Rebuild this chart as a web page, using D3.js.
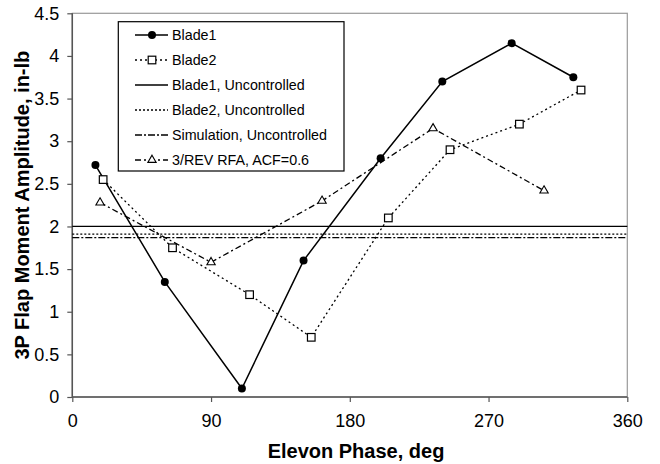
<!DOCTYPE html>
<html><head><meta charset="utf-8">
<script src="https://cdn.jsdelivr.net/npm/d3@7"></script>
<style>body{margin:0;background:#fff}svg{display:block}text{font-family:"Liberation Sans",Arial,sans-serif}</style>
</head><body><svg id="c" width="660" height="464"></svg>
<script>
const blade1X = [15, 60, 110, 150, 200, 240, 285, 325];
const blade1Y = [2.72, 1.35, 0.1, 1.6, 2.8, 3.7, 4.15, 3.75];
const blade2X = [20, 65, 115, 155, 205, 245, 290, 330];
const blade2Y = [2.55, 1.75, 1.2, 0.7, 2.1, 2.9, 3.2, 3.6];
const rfaX = [18, 90, 162, 234, 306];
const rfaY = [2.28, 1.58, 2.3, 3.15, 2.42];
const blade1Unc = 2.0;
const blade2Unc = 1.91;
const simUnc = 1.87;
const xTicks = [0, 90, 180, 270, 360];
const yTicks = [0, 0.5, 1, 1.5, 2, 2.5, 3, 3.5, 4, 4.5];
const legendLabels = ["Blade1", "Blade2", "Blade1, Uncontrolled", "Blade2, Uncontrolled", "Simulation, Uncontrolled", "3/REV RFA, ACF=0.6"];

const svg = d3.select("#c");
const L = 72.3, R = 627.3, T = 13.3, B = 397;
const x = d3.scaleLinear().domain([0, 360]).range([L, R]);
const y = d3.scaleLinear().domain([0, 4.5]).range([B, T]);

svg.append("rect").attr("x", L).attr("y", T).attr("width", R - L).attr("height", B - T)
  .attr("fill", "none").attr("stroke", "#999").attr("stroke-width", 1.2);

const xa = svg.append("g").attr("transform", `translate(0,${B})`)
  .call(d3.axisBottom(x).tickValues(xTicks).tickSize(5).tickSizeOuter(0).tickPadding(12));
const ya = svg.append("g").attr("transform", `translate(${L},0)`)
  .call(d3.axisLeft(y).tickValues(yTicks).tickSize(5).tickSizeOuter(0).tickPadding(8).tickFormat(d3.format("")));
[xa, ya].forEach(a => {
  a.select(".domain").attr("stroke", "#555").attr("stroke-width", 1.5);
  a.selectAll(".tick line").attr("stroke", "#555").attr("stroke-width", 1.2);
  a.selectAll(".tick text").attr("font-size", 18).attr("fill", "#000")
    .style("font-family", '"Liberation Sans",Arial,sans-serif');
});
xa.select(".domain").attr("d", `M${L},0H${R}`);
ya.select(".domain").attr("d", `M0,${T}V${B}`);

svg.append("text").attr("x", 356).attr("y", 458).attr("text-anchor", "middle")
  .attr("font-size", 20).attr("font-weight", "bold").text("Elevon Phase, deg");
svg.append("text").attr("transform", `translate(29,${(T + B) / 2}) rotate(-90)`).attr("text-anchor", "middle")
  .attr("font-size", 20).attr("font-weight", "bold").text("3P Flap Moment Amplitude, in-lb");

const hl = [
  {v: blade1Unc, dash: null},
  {v: blade2Unc, dash: "2,2"},
  {v: simUnc, dash: "7,2,2,2"}
];
hl.forEach(h => {
  svg.append("line").attr("x1", L).attr("x2", R).attr("y1", y(h.v)).attr("y2", y(h.v))
    .attr("stroke", "#000").attr("stroke-width", 1.3).attr("stroke-dasharray", h.dash);
});

const line = d3.line().x(d => x(d[0])).y(d => y(d[1]));
const b1 = blade1X.map((v, i) => [v, blade1Y[i]]);
const b2 = blade2X.map((v, i) => [v, blade2Y[i]]);
const rf = rfaX.map((v, i) => [v, rfaY[i]]);

svg.append("path").datum(b2).attr("d", line).attr("fill", "none").attr("stroke", "#000")
  .attr("stroke-width", 1.3).attr("stroke-dasharray", "2,3");
svg.append("path").datum(rf).attr("d", line).attr("fill", "none").attr("stroke", "#000")
  .attr("stroke-width", 1.3).attr("stroke-dasharray", "6,3,2,3");
svg.append("path").datum(b1).attr("d", line).attr("fill", "none").attr("stroke", "#000")
  .attr("stroke-width", 1.5);

const tri = d3.symbol().type(d3.symbolTriangle).size(30);
function drawMarker(g, kind, cx, cy) {
  if (kind === "circle") g.append("circle").attr("cx", cx).attr("cy", cy).attr("r", 4).attr("fill", "#000");
  else if (kind === "square") g.append("rect").attr("x", cx - 3.8).attr("y", cy - 3.8).attr("width", 7.6).attr("height", 7.6)
    .attr("fill", "#fff").attr("stroke", "#000").attr("stroke-width", 1.2);
  else if (kind === "tri") g.append("path").attr("d", tri()).attr("transform", `translate(${cx},${cy})`)
    .attr("fill", "#fff").attr("stroke", "#000").attr("stroke-width", 1.1);
}
const mg = svg.append("g");
b2.forEach(d => drawMarker(mg, "square", x(d[0]), y(d[1])));
rf.forEach(d => drawMarker(mg, "tri", x(d[0]), y(d[1])));
b1.forEach(d => drawMarker(mg, "circle", x(d[0]), y(d[1])));

const lg = svg.append("g");
lg.append("rect").attr("x", 118.3).attr("y", 21.7).attr("width", 344 - 118.3).attr("height", 171 - 21.7)
  .attr("fill", "#fff").attr("stroke", "#000").attr("stroke-width", 1.2);
const styles = [
  {dash: null, m: "circle"}, {dash: "2,3", m: "square"}, {dash: null, m: null},
  {dash: "2,2", m: null}, {dash: "7,2,2,2", m: null}, {dash: "6,3,2,3", m: "tri"}
];
legendLabels.forEach((t, i) => {
  const cy = 35 + i * 25;
  lg.append("line").attr("x1", 135).attr("x2", 168).attr("y1", cy).attr("y2", cy)
    .attr("stroke", "#000").attr("stroke-width", 1.3).attr("stroke-dasharray", styles[i].dash);
  if (styles[i].m) drawMarker(lg, styles[i].m, 152, cy);
  lg.append("text").attr("x", 172).attr("y", cy + 5).attr("font-size", 14.3).text(t);
});
</script></body></html>
